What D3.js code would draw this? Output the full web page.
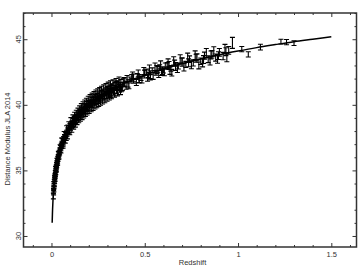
<!DOCTYPE html>
<meta charset="utf-8">
<style>

body {
  margin: 0;
  background: #fff;
}

.axis text,
.label {
  font: 7.5px "Liberation Sans", Arial, sans-serif;
  fill: #333;
}

.axis path {
  display: none;
}

.axis line {
  stroke: #333;
}

.frame {
  fill: none;
  stroke: #333;
  stroke-width: 1.5px;
}

.err {
  fill: none;
  stroke: #000;
  stroke-width: 1.1px;
}

.line {
  fill: none;
  stroke: #000;
  stroke-width: 1.5px;
}

</style>
<body>
<script src="https://d3js.org/d3.v7.min.js"></script>
<script>

// tick values
var xMajor = [0, 0.5, 1, 1.5],
    xMinor = [-0.1, 0.1, 0.2, 0.3, 0.4, 0.6, 0.7, 0.8, 0.9, 1.1, 1.2, 1.3, 1.4, 1.6],
    yMajor = [30, 35, 40, 45],
    yMinor = [31, 32, 33, 34, 36, 37, 38, 39, 41, 42, 43, 44, 46, 47];

// model curve (redshift, distance modulus)
var model = [
  [0.0037, 31.01], [0.005, 31.66], [0.0075, 32.55], [0.01, 33.18], [0.015, 34.06],
  [0.02, 34.70], [0.03, 35.59], [0.04, 36.24], [0.05, 36.74], [0.07, 37.50],
  [0.1, 38.32], [0.15, 39.27], [0.2, 39.96], [0.25, 40.50], [0.3, 40.96],
  [0.35, 41.34], [0.4, 41.69], [0.45, 41.99], [0.5, 42.26], [0.6, 42.74],
  [0.7, 43.15], [0.8, 43.50], [0.9, 43.82], [1.0, 44.10], [1.1, 44.36],
  [1.2, 44.59], [1.3, 44.81], [1.4, 45.00], [1.5, 45.19]
];

// supernovae (redshift, distance modulus, error)
var lowZ = [
  [0.0101, 33.05, 0.22], [0.0108, 33.41, 0.20], [0.0115, 33.30, 0.18], [0.0122, 33.72, 0.17],
  [0.0128, 33.55, 0.19], [0.0135, 33.98, 0.16], [0.0142, 33.82, 0.18], [0.0148, 34.17, 0.15],
  [0.0155, 33.96, 0.16], [0.0161, 34.28, 0.15], [0.0168, 34.14, 0.15], [0.0174, 34.45, 0.14],
  [0.0182, 34.33, 0.15], [0.0190, 34.63, 0.14], [0.0198, 34.52, 0.14], [0.0205, 34.85, 0.13],
  [0.0213, 34.70, 0.14], [0.0221, 34.98, 0.13], [0.0230, 34.82, 0.14], [0.0238, 35.15, 0.13],
  [0.0247, 35.02, 0.13], [0.0256, 35.30, 0.12], [0.0265, 35.18, 0.13], [0.0275, 35.48, 0.12],
  [0.0284, 35.33, 0.13], [0.0294, 35.64, 0.12], [0.0305, 35.50, 0.12], [0.0316, 35.78, 0.12],
  [0.0327, 35.66, 0.12], [0.0339, 35.95, 0.12], [0.0351, 35.82, 0.12], [0.0364, 36.10, 0.11],
  [0.0377, 35.98, 0.12], [0.0391, 36.28, 0.11], [0.0405, 36.15, 0.11], [0.0420, 36.43, 0.11],
  [0.0436, 36.30, 0.12], [0.0452, 36.62, 0.11], [0.0469, 36.48, 0.12], [0.0487, 36.80, 0.11],
  [0.0505, 36.62, 0.12], [0.0524, 36.95, 0.12], [0.0543, 36.80, 0.12], [0.0563, 37.10, 0.12],
  [0.0584, 36.98, 0.13], [0.0605, 37.28, 0.12], [0.0627, 37.12, 0.13], [0.0650, 37.45, 0.13],
  [0.0673, 37.28, 0.13], [0.0697, 37.60, 0.13], [0.0722, 37.44, 0.14], [0.0748, 37.78, 0.14],
  [0.0775, 37.60, 0.14], [0.0803, 37.92, 0.14], [0.0832, 37.76, 0.15], [0.0862, 38.08, 0.15],
  [0.0893, 37.92, 0.15], [0.0925, 38.25, 0.15], [0.0958, 38.06, 0.16], [0.0992, 38.42, 0.16],
  [0.013, 33.95, 0.20], [0.016, 34.45, 0.18], [0.019, 34.35, 0.18], [0.022, 35.15, 0.16],
  [0.026, 35.05, 0.16], [0.029, 35.78, 0.15], [0.033, 35.55, 0.15], [0.037, 36.30, 0.15],
  [0.041, 36.02, 0.15], [0.046, 36.80, 0.15], [0.051, 36.48, 0.15], [0.057, 37.30, 0.16],
  [0.064, 37.02, 0.16], [0.071, 37.80, 0.17], [0.079, 37.45, 0.17], [0.088, 38.28, 0.18],
  [0.096, 37.95, 0.18]
];

var midZ = [
  [0.102, 38.20, 0.14], [0.105, 38.52, 0.15], [0.108, 38.35, 0.13], [0.111, 38.66, 0.16],
  [0.114, 38.48, 0.14], [0.117, 38.80, 0.17], [0.120, 38.60, 0.15], [0.123, 38.92, 0.18],
  [0.126, 38.70, 0.16], [0.129, 39.02, 0.17], [0.132, 38.82, 0.15], [0.135, 39.12, 0.18],
  [0.138, 38.95, 0.16], [0.141, 39.25, 0.18], [0.144, 39.05, 0.17], [0.147, 39.38, 0.19],
  [0.150, 39.15, 0.17], [0.153, 39.46, 0.19], [0.156, 39.25, 0.18], [0.159, 39.55, 0.20],
  [0.162, 39.34, 0.18], [0.165, 39.62, 0.20], [0.168, 39.42, 0.19], [0.171, 39.72, 0.21],
  [0.174, 39.50, 0.19], [0.177, 39.82, 0.22], [0.180, 39.58, 0.20], [0.184, 39.90, 0.22],
  [0.188, 39.68, 0.20], [0.192, 40.02, 0.23], [0.196, 39.78, 0.21], [0.200, 40.10, 0.23],
  [0.204, 39.88, 0.22], [0.208, 40.20, 0.24], [0.212, 39.98, 0.22], [0.216, 40.32, 0.25],
  [0.220, 40.06, 0.23], [0.225, 40.42, 0.25], [0.230, 40.16, 0.23], [0.235, 40.52, 0.26],
  [0.240, 40.28, 0.24], [0.245, 40.62, 0.26], [0.250, 40.36, 0.25], [0.255, 40.72, 0.27],
  [0.260, 40.46, 0.25], [0.265, 40.80, 0.27], [0.270, 40.55, 0.26], [0.276, 40.92, 0.28],
  [0.282, 40.64, 0.26], [0.288, 41.00, 0.28], [0.294, 40.75, 0.27], [0.300, 41.10, 0.29],
  [0.306, 40.85, 0.27], [0.312, 41.20, 0.29], [0.318, 40.95, 0.28], [0.325, 41.30, 0.30],
  [0.332, 41.02, 0.28], [0.340, 41.40, 0.30], [0.348, 41.14, 0.29], [0.356, 41.52, 0.31],
  [0.364, 41.26, 0.30], [0.372, 41.62, 0.32], [0.380, 41.38, 0.30], [0.390, 41.75, 0.32],
  [0.400, 41.50, 0.31],
  [0.107, 38.55, 0.20], [0.113, 38.50, 0.20], [0.121, 38.85, 0.21], [0.127, 38.78, 0.21],
  [0.134, 39.05, 0.22], [0.139, 39.00, 0.22], [0.148, 39.30, 0.22], [0.157, 39.30, 0.23],
  [0.166, 39.60, 0.23], [0.176, 39.58, 0.24], [0.185, 39.85, 0.24], [0.194, 39.82, 0.25],
  [0.205, 40.12, 0.25], [0.215, 40.05, 0.26], [0.226, 40.35, 0.26], [0.236, 40.28, 0.27],
  [0.247, 40.58, 0.27], [0.257, 40.48, 0.28], [0.272, 40.82, 0.28], [0.285, 40.75, 0.29],
  [0.297, 41.05, 0.29], [0.309, 40.95, 0.30], [0.321, 41.28, 0.30], [0.335, 41.15, 0.31],
  [0.350, 41.48, 0.31], [0.368, 41.40, 0.32], [0.385, 41.70, 0.32]
];

var sdss = [
  [0.055, 37.25, 0.22], [0.062, 36.90, 0.20], [0.068, 37.72, 0.24], [0.074, 37.30, 0.22],
  [0.081, 38.15, 0.25], [0.086, 37.62, 0.22], [0.093, 38.45, 0.26], [0.098, 37.95, 0.23],
  [0.104, 38.75, 0.27], [0.109, 38.15, 0.24], [0.115, 38.95, 0.28], [0.119, 38.40, 0.25],
  [0.124, 39.15, 0.28], [0.128, 38.55, 0.25], [0.133, 39.30, 0.29], [0.137, 38.75, 0.26],
  [0.142, 39.45, 0.30], [0.146, 38.90, 0.27], [0.151, 39.62, 0.30], [0.155, 39.02, 0.27],
  [0.160, 39.78, 0.31], [0.164, 39.15, 0.28], [0.169, 39.92, 0.31], [0.173, 39.28, 0.28],
  [0.178, 40.05, 0.32], [0.182, 39.40, 0.29], [0.187, 40.18, 0.32], [0.191, 39.52, 0.30],
  [0.197, 40.32, 0.33], [0.202, 39.65, 0.30], [0.207, 40.45, 0.33], [0.213, 39.78, 0.31],
  [0.218, 40.55, 0.34], [0.223, 39.88, 0.31], [0.228, 40.68, 0.34], [0.233, 40.00, 0.32],
  [0.238, 40.78, 0.35], [0.243, 40.10, 0.32], [0.248, 40.88, 0.35], [0.253, 40.20, 0.33],
  [0.258, 40.95, 0.36], [0.263, 40.30, 0.33], [0.268, 41.05, 0.36], [0.274, 40.40, 0.34],
  [0.280, 41.15, 0.37], [0.286, 40.50, 0.34], [0.292, 41.25, 0.37], [0.298, 40.62, 0.35],
  [0.304, 41.35, 0.38], [0.310, 40.72, 0.35], [0.316, 41.45, 0.38], [0.322, 40.82, 0.36],
  [0.330, 41.52, 0.38], [0.338, 40.95, 0.36], [0.346, 41.62, 0.39], [0.354, 41.05, 0.37],
  [0.362, 41.72, 0.40], [0.370, 41.15, 0.37]
];

var highZ = [
  [0.21, 40.00, 0.15], [0.24, 40.55, 0.14], [0.27, 40.62, 0.15], [0.30, 41.05, 0.14],
  [0.33, 41.08, 0.16], [0.36, 41.52, 0.15], [0.39, 41.55, 0.16], [0.42, 41.95, 0.17],
  [0.43, 42.10, 0.20], [0.44, 41.80, 0.16], [0.46, 42.20, 0.18], [0.47, 41.85, 0.18],
  [0.48, 42.02, 0.17], [0.50, 42.45, 0.19], [0.51, 42.50, 0.22], [0.52, 42.25, 0.18],
  [0.53, 42.10, 0.20], [0.54, 42.62, 0.20], [0.56, 42.45, 0.19], [0.57, 42.70, 0.22],
  [0.58, 42.85, 0.21], [0.59, 42.45, 0.21], [0.60, 42.62, 0.20], [0.61, 42.95, 0.24],
  [0.62, 43.00, 0.22], [0.64, 42.78, 0.21], [0.645, 42.45, 0.25], [0.66, 43.18, 0.23],
  [0.68, 42.95, 0.22], [0.70, 43.35, 0.24], [0.72, 43.08, 0.23], [0.74, 43.48, 0.25],
  [0.76, 43.20, 0.24], [0.78, 43.62, 0.26], [0.79, 43.00, 0.26], [0.80, 43.32, 0.25],
  [0.82, 43.75, 0.27], [0.84, 43.48, 0.26], [0.86, 43.85, 0.28], [0.88, 43.60, 0.27],
  [0.90, 44.00, 0.29], [0.92, 43.72, 0.28], [0.95, 44.15, 0.30], [0.97, 44.72, 0.42],
  [1.02, 44.25, 0.20], [1.055, 43.85, 0.20], [1.12, 44.40, 0.22], [1.23, 44.82, 0.18],
  [1.26, 44.78, 0.20], [1.30, 44.70, 0.18]
];

var snls = [
  [0.315, 40.75, 0.20], [0.345, 41.58, 0.22], [0.375, 41.20, 0.20], [0.405, 42.00, 0.24],
  [0.415, 41.45, 0.22], [0.435, 42.25, 0.25], [0.455, 41.70, 0.23], [0.465, 42.40, 0.26],
  [0.485, 41.90, 0.24], [0.495, 42.58, 0.27], [0.515, 42.05, 0.25], [0.525, 42.75, 0.28],
  [0.545, 42.20, 0.26], [0.555, 42.90, 0.29], [0.575, 42.35, 0.27], [0.585, 43.05, 0.30],
  [0.605, 42.50, 0.28], [0.625, 43.20, 0.30], [0.635, 42.60, 0.28], [0.655, 43.35, 0.31],
  [0.675, 42.75, 0.29], [0.690, 43.50, 0.32], [0.710, 42.88, 0.30], [0.730, 43.62, 0.32],
  [0.750, 43.05, 0.30], [0.770, 43.78, 0.33], [0.810, 43.20, 0.31], [0.830, 43.95, 0.34],
  [0.850, 43.35, 0.32], [0.870, 44.08, 0.35], [0.890, 43.50, 0.33], [0.930, 44.25, 0.36],
  [0.940, 43.62, 0.34],
  [0.410, 41.65, 0.30], [0.440, 42.05, 0.30], [0.470, 42.00, 0.30], [0.500, 42.35, 0.30],
  [0.530, 42.30, 0.30], [0.565, 42.70, 0.30], [0.595, 42.60, 0.30], [0.630, 43.00, 0.30],
  [0.665, 42.92, 0.30], [0.700, 43.25, 0.30], [0.735, 43.20, 0.30], [0.775, 43.55, 0.30],
  [0.815, 43.45, 0.30], [0.855, 43.80, 0.30], [0.895, 43.75, 0.30], [0.935, 44.05, 0.30]
];

var points = lowZ.concat(midZ, sdss, highZ, snls);

var width = 362, height = 266;

var x = d3.scaleLinear()
    .domain([-0.15, 1.635])
    .range([23.5, 356.5]);

var y = d3.scaleLinear()
    .domain([29.16, 47.0])
    .range([247, 13]);

var svg = d3.select("body").append("svg")
    .attr("width", width)
    .attr("height", height);

// error bars
var cap = 2.5;
svg.append("g")
    .attr("class", "err")
  .selectAll("path")
  .data(points)
  .enter().append("path")
    .attr("d", function(d) {
      var px = x(d[0]), y0 = y(d[1] - d[2]), y1 = y(d[1] + d[2]);
      return "M" + px + "," + y0 + "V" + y1 +
             "M" + (px - cap) + "," + y0 + "H" + (px + cap) +
             "M" + (px - cap) + "," + y1 + "H" + (px + cap);
    });

var line = d3.line()
    .curve(d3.curveMonotoneX)
    .x(function(d) { return x(d[0]); })
    .y(function(d) { return y(d[1]); });

svg.append("path")
    .datum(model)
    .attr("class", "line")
    .attr("d", line);

// axes, ticks pointing inward on all four sides
svg.append("g")
    .attr("class", "axis")
    .attr("transform", "translate(0," + y.range()[0] + ")")
    .call(d3.axisBottom(x).tickValues(xMajor).tickSize(-4).tickPadding(4.4)
      .tickFormat(function(d) { return d; }));

svg.append("g")
    .attr("class", "axis")
    .attr("transform", "translate(0," + y.range()[0] + ")")
    .call(d3.axisBottom(x).tickValues(xMinor).tickSize(-2).tickFormat(""));

svg.append("g")
    .attr("class", "axis")
    .attr("transform", "translate(0," + y.range()[1] + ")")
    .call(d3.axisTop(x).tickValues(xMajor).tickSize(-4).tickFormat(""));

svg.append("g")
    .attr("class", "axis")
    .attr("transform", "translate(0," + y.range()[1] + ")")
    .call(d3.axisTop(x).tickValues(xMinor).tickSize(-2).tickFormat(""));

svg.append("g")
    .attr("class", "axis")
    .attr("transform", "translate(" + x.range()[0] + ",0)")
    .call(d3.axisLeft(y).tickValues(yMajor).tickSize(-4).tickFormat(""));

svg.append("g")
    .attr("class", "axis")
    .attr("transform", "translate(" + x.range()[0] + ",0)")
    .call(d3.axisLeft(y).tickValues(yMinor).tickSize(-2).tickFormat(""));

svg.append("g")
    .attr("class", "axis")
    .attr("transform", "translate(" + x.range()[1] + ",0)")
    .call(d3.axisRight(y).tickValues(yMajor).tickSize(-4).tickFormat(""));

svg.append("g")
    .attr("class", "axis")
    .attr("transform", "translate(" + x.range()[1] + ",0)")
    .call(d3.axisRight(y).tickValues(yMinor).tickSize(-2).tickFormat(""));

// rotated y tick labels
svg.append("g")
  .selectAll("text")
  .data(yMajor)
  .enter().append("text")
    .attr("class", "label")
    .attr("transform", function(d) { return "translate(20.5," + y(d) + ")rotate(-90)"; })
    .style("text-anchor", "middle")
    .text(function(d) { return d; });

svg.append("rect")
    .attr("class", "frame")
    .attr("x", x.range()[0])
    .attr("y", y.range()[1])
    .attr("width", x.range()[1] - x.range()[0])
    .attr("height", y.range()[0] - y.range()[1]);

svg.append("text")
    .attr("class", "label")
    .attr("x", 192.5)
    .attr("y", 265)
    .style("text-anchor", "middle")
    .text("Redshift");

svg.append("text")
    .attr("class", "label")
    .attr("transform", "translate(9.5,139)rotate(-90)")
    .style("text-anchor", "middle")
    .text("Distance Modulus JLA 2014");

</script>
